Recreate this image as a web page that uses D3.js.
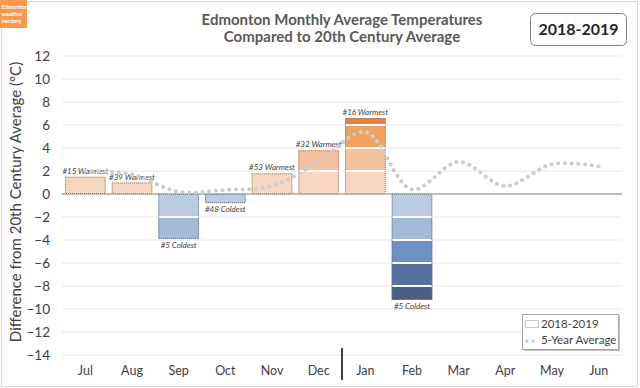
<!DOCTYPE html>
<html>
<head>
<meta charset="utf-8">
<script src="https://cdn.jsdelivr.net/npm/d3@7"></script>
<style>
  body { margin: 0; background: #fff; }
  svg { font-family: Lato, "Open Sans", sans-serif; display: block; }
</style>
</head>
<body>
<div class="canvas-container"></div>
<script>
const months = ["Jul", "Aug", "Sep", "Oct", "Nov", "Dec", "Jan", "Feb", "Mar", "Apr", "May", "Jun"]
// 2018-2019 anomalies (only Jul..Feb have data)
const anomaly = [1.5, 1.0, -3.9, -0.8, 1.8, 3.8, 6.6, -9.2]
const ranks = ["#15 Warmest", "#39 Warmest", "#5 Coldest", "#48 Coldest", "#53 Warmest", "#32 Warmest", "#16 Warmest", "#5 Coldest"]
const fiveYear = [2.0, 1.7, 0.2, 0.35, 0.7, 2.8, 5.4, 0.4, 2.8, 0.7, 2.6, 2.4]
const yTicks = [-14, -12, -10, -8, -6, -4, -2, 0, 2, 4, 6, 8, 10, 12]

const warmColors = ["#f8d6bf", "#f5c29f", "#f0a262", "#e6803a"]
const coldColors = ["#bccde3", "#a3b9da", "#6d92c6", "#56739f", "#4a5f82"]

const w = 640
const h = 388

const svg = d3.select(".canvas-container")
  .append("svg")
  .attr("width", w)
  .attr("height", h)

// outer frame
svg.append("rect")
  .attr("x", 1.5).attr("y", 1.5)
  .attr("width", w - 4).attr("height", h - 3)
  .attr("fill", "#fff")
  .attr("stroke", "#d9d9d9")

// logo
svg.append("rect")
  .attr("x", 0).attr("y", 0)
  .attr("width", 27).attr("height", 28)
  .attr("fill", "#f79a50")
svg.append("text")
  .attr("fill", "#fff")
  .attr("font-size", 5.8)
  .attr("font-weight", "bold")
  .selectAll("tspan")
  .data(["Edmonton", "weather", "nerdery"])
  .enter()
  .append("tspan")
  .attr("x", 1.5)
  .attr("y", (d, i) => 8.5 + i * 7)
  .text(d => d)

const x = d3.scaleBand()
  .domain(months)
  .range([62, 622])
  .paddingInner(0.13)
  .paddingOuter(0.065)

const y = d3.scaleLinear()
  .domain([-14, 12])
  .range([355, 56])

// gridlines
svg.append("g")
  .selectAll("line")
  .data(yTicks)
  .enter()
  .append("line")
  .attr("x1", 62).attr("x2", 622)
  .attr("y1", d => y(d)).attr("y2", d => y(d))
  .attr("stroke", d => d === 0 ? "#a6a6a6" : "#e6e6e6")
  .attr("stroke-width", d => d === 0 ? 1.3 : 1)

// y axis labels
const yAxis = svg.append("g")
  .attr("transform", "translate(50,0)")
  .call(d3.axisLeft(y).tickValues(yTicks).tickSize(0).tickPadding(0))
yAxis.select(".domain").remove()
yAxis.selectAll("text")
  .attr("font-family", "Lato")
  .attr("font-size", 13.5)
  .attr("fill", "#404040")

// x axis labels
const xAxis = svg.append("g")
  .attr("transform", "translate(0,366)")
  .call(d3.axisBottom(x).tickSize(0).tickPadding(0))
xAxis.select(".domain").remove()
xAxis.selectAll("text")
  .attr("font-family", "Lato")
  .attr("font-size", 12.5)
  .attr("fill", "#404040")

// year separator between Dec and Jan
const sepX = x("Jan") - x.step() * x.paddingInner() / 2
svg.append("line")
  .attr("x1", sepX).attr("x2", sepX)
  .attr("y1", 348).attr("y2", 380)
  .attr("stroke", "#000")
  .attr("stroke-width", 1.5)

// bars split into 2-degree bands
const barData = anomaly.map((v, i) => ({ month: months[i], value: v, rank: ranks[i] }))
const bars = svg.append("g")
  .selectAll("g")
  .data(barData)
  .enter()
  .append("g")

bars.each(function (d) {
  const g = d3.select(this)
  const sign = d.value >= 0 ? 1 : -1
  const colors = sign > 0 ? warmColors : coldColors
  const n = Math.ceil(Math.abs(d.value) / 2)
  for (let k = 0; k < n; k++) {
    const a = sign * k * 2
    const b = sign * Math.min((k + 1) * 2, Math.abs(d.value))
    g.append("rect")
      .attr("x", x(d.month))
      .attr("width", x.bandwidth())
      .attr("y", y(Math.max(a, b)))
      .attr("height", Math.abs(y(a) - y(b)))
      .attr("fill", colors[k])
    if (k > 0) {
      g.append("line")
        .attr("x1", x(d.month)).attr("x2", x(d.month) + x.bandwidth())
        .attr("y1", y(a)).attr("y2", y(a))
        .attr("stroke", "#fff")
        .attr("stroke-width", 2)
    }
  }
  g.append("rect")
    .attr("x", x(d.month) + 0.5)
    .attr("width", x.bandwidth() - 1)
    .attr("y", y(Math.max(0, d.value)) + 0.5)
    .attr("height", Math.abs(y(d.value) - y(0)) - 1)
    .attr("fill", "none")
    .attr("stroke", sign > 0 ? "#8a7a70" : "#5f6f8c")
    .attr("stroke-dasharray", "1,1")
  g.append("text")
    .attr("x", x(d.month) + x.bandwidth() / 2)
    .attr("y", sign > 0 ? y(d.value) - 3 : y(d.value) + 9)
    .attr("text-anchor", "middle")
    .attr("font-size", 8)
    .attr("font-style", "italic")
    .attr("fill", "#404040")
    .text(d.rank)
})

// 5-year average
const line = d3.line()
  .x((d, i) => x(months[i]) + x.bandwidth() / 2)
  .y(d => y(d))
  .curve(d3.curveCatmullRom.alpha(0.5))

svg.append("path")
  .datum(fiveYear)
  .attr("d", line)
  .attr("fill", "none")
  .attr("stroke", "#cdcdcd")
  .attr("stroke-width", 4)
  .attr("stroke-linecap", "round")
  .attr("stroke-dasharray", "0.1,6.6")

// title
svg.append("text")
  .attr("text-anchor", "middle")
  .attr("font-size", 15)
  .attr("font-weight", "bold")
  .attr("fill", "#595959")
  .selectAll("tspan")
  .data(["Edmonton Monthly Average Temperatures", "Compared to 20th Century Average"])
  .enter()
  .append("tspan")
  .attr("x", 342)
  .attr("y", (d, i) => 25 + i * 17)
  .text(d => d)

// season box
svg.append("rect")
  .attr("x", 530.5).attr("y", 13.5)
  .attr("width", 96).attr("height", 32)
  .attr("rx", 5)
  .attr("fill", "#fff")
  .attr("stroke", "#7f7f7f")
svg.append("text")
  .attr("x", 578.5).attr("y", 35)
  .attr("text-anchor", "middle")
  .attr("font-size", 16)
  .attr("font-weight", "bold")
  .attr("fill", "#262626")
  .text("2018-2019")

// y axis title
svg.append("text")
  .attr("transform", "translate(21,202) rotate(-90)")
  .attr("text-anchor", "middle")
  .attr("font-size", 15)
  .attr("fill", "#404040")
  .text("Difference from 20th Century Average (°C)")

// legend
const legend = svg.append("g").attr("id", "legend")
legend.append("rect")
  .attr("x", 524).attr("y", 316)
  .attr("width", 96).attr("height", 35)
  .attr("fill", "#bfbfbf")
legend.append("rect")
  .attr("x", 522.5).attr("y", 314.5)
  .attr("width", 96).attr("height", 35)
  .attr("fill", "#fff")
  .attr("stroke", "#a6a6a6")
legend.append("rect")
  .attr("x", 525.5).attr("y", 320.5)
  .attr("width", 13).attr("height", 7)
  .attr("fill", "#fff")
  .attr("stroke", "#8c8c8c")
  .attr("stroke-dasharray", "1,1")
legend.append("line")
  .attr("x1", 527).attr("x2", 536)
  .attr("y1", 341).attr("y2", 341)
  .attr("stroke", "#cdcdcd")
  .attr("stroke-width", 3.5)
  .attr("stroke-linecap", "round")
  .attr("stroke-dasharray", "0.1,6")
legend.selectAll(".legend-text")
  .data(["2018-2019", "5-Year Average"])
  .enter()
  .append("text")
  .attr("class", "legend-text")
  .attr("x", 541)
  .attr("y", (d, i) => 328 + i * 16)
  .attr("font-size", 11.5)
  .attr("fill", "#404040")
  .text(d => d)
</script>
</body>
</html>
